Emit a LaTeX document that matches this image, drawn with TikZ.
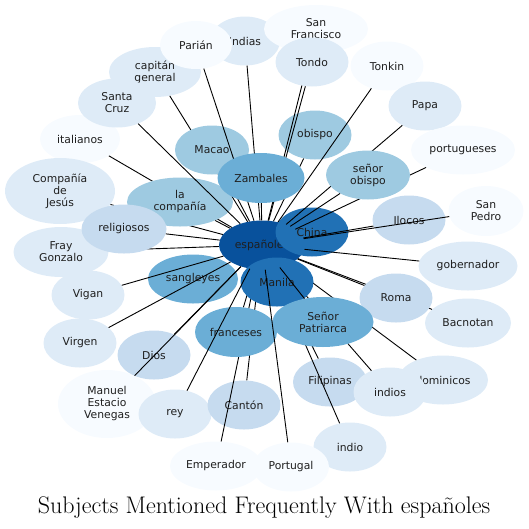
\documentclass[tikz,border=0pt]{standalone}
\usepackage{fontspec}
\newfontfamily\dejavu{DejaVu Sans}
\usetikzlibrary{shapes.geometric}
\definecolor{bla}{HTML}{F7FBFF}
\definecolor{blb}{HTML}{DEEBF7}
\definecolor{blc}{HTML}{C6DBEF}
\definecolor{bld}{HTML}{9ECAE1}
\definecolor{ble}{HTML}{6BAED6}
\definecolor{blf}{HTML}{2171B5}
\definecolor{blg}{HTML}{08519C}

\begin{document}
\begin{tikzpicture}[x=1pt, y=-1pt,
    ent/.style={ellipse, inner sep=0pt, minimum width=73pt, minimum height=49pt,
        align=center, text=black!88, font=\dejavu\fontsize{10.8}{12}\selectfont},
    link/.style={line width=0.9pt, black}]
    \useasboundingbox (0,0) rectangle (529,528);
    % outer ring
    \node[ent, fill=blb, minimum width=70pt] (indias) at (245,41) {Indias};
    \node[ent, fill=bla, minimum width=104pt, minimum height=48pt] (sf) at (316,29) {San\\Francisco};
    \node[ent, fill=blb, minimum width=92pt, minimum height=50pt] (capitan) at (155,72) {capitán\\general};
    \node[ent, fill=bla, minimum width=72pt, minimum height=48pt] (parian) at (196,45) {Parián};
    \node[ent, fill=bla, minimum width=80pt, minimum height=48pt] (italianos) at (80,139) {italianos};
    \node[ent, fill=blb, minimum width=78pt] (santacruz) at (117,103) {Santa\\Cruz};
    \node[ent, fill=blb, minimum width=110pt, minimum height=66pt] (cdj) at (60,191) {Compañía\\de\\Jesús};
    \node[ent, fill=blb, minimum width=95pt, minimum height=50pt] (fray) at (61,252) {Fray\\Gonzalo};
    \node[ent, fill=blb] (vigan) at (88,295) {Vigan};
    \node[ent, fill=blb] (virgen) at (80,343) {Virgen};
    \node[ent, fill=bla, minimum width=98pt, minimum height=68pt] (mev) at (107,404) {Manuel\\Estacio\\Venegas};
    \node[ent, fill=blb] (rey) at (175,414) {rey};
    \node[ent, fill=bla] (tonkin) at (387,66) {Tonkin};
    \node[ent, fill=blb] (papa) at (425,106) {Papa};
    \node[ent, fill=bla, minimum width=104pt] (portugueses) at (463,150) {portugueses};
    \node[ent, fill=bla, minimum width=75pt, minimum height=50pt] (sanpedro) at (486,211) {San\\Pedro};
    \node[ent, fill=blb, minimum width=99pt] (gobernador) at (468,266) {gobernador};
    \node[ent, fill=blb, minimum width=86pt] (bacnotan) at (468,323) {Bacnotan};
    \node[ent, fill=blb, minimum width=90pt] (dominicos) at (443,380) {dominicos};
    \node[ent, fill=blc, minimum width=74pt] (filipinas) at (330,382) {Filipinas};
    \node[ent, fill=blb] (indios) at (390,392) {indios};
    \node[ent, fill=blb] (indio) at (350,447) {indio};
    \node[ent, fill=bla, minimum width=92pt] (emperador) at (216,466) {Emperador};
    \node[ent, fill=bla, minimum width=76pt] (portugal) at (291,467) {Portugal};
    \node[ent, fill=blc] (canton) at (244,405) {Cantón};
    \node[ent, fill=blc] (dios) at (154,355) {Dios};
    \node[ent, fill=bld] (obispo) at (315,135) {obispo};
    \node[ent, fill=blc] (ilocos) at (409,220) {Ilocos};
    \node[ent, fill=ble, minimum width=90pt] (sangleyes) at (193,279) {sangleyes};
    \node[ent, fill=blg, minimum width=86pt] (esp) at (262,245) {españoles};
    \node[ent, fill=blf] (china) at (312,232) {China};
    % links that end up under nodes
    \foreach \s in {sf,indias,capitan,italianos,cdj,fray,papa,portugueses,bacnotan,
        dominicos,filipinas,indios,indio,canton,emperador,obispo}
        \draw[link] (\s) -- (esp);
    \node[ent, fill=blb] (tondo) at (312,62) {Tondo};
    \node[ent, fill=bld, minimum width=74pt] (macao) at (212,150) {Macao};
    \foreach \s in {tondo,parian,macao}
        \draw[link] (\s) -- (esp);
    % inner ring
    \node[ent, fill=bld, minimum width=106pt] (lacomp) at (180,202) {la\\compañía};
    \node[ent, fill=ble, minimum width=87pt, minimum height=50pt] (zambales) at (261,178) {Zambales};
    \node[ent, fill=blc, minimum width=85pt] (religiosos) at (124,229) {religiosos};
    \node[ent, fill=blc] (roma) at (396,298) {Roma};
    \node[ent, fill=bld, minimum width=84pt] (senorob) at (368,175) {señor\\obispo};
    \node[ent, fill=ble, minimum width=82pt, minimum height=50pt] (franceses) at (236,332) {franceses};
    \draw[link] (franceses) -- (esp);
    \node[ent, fill=blf] (manila) at (277,282) {Manila};
    \node[ent, fill=ble, minimum width=101pt, minimum height=50pt] (patriarca) at (323,322) {Señor\\Patriarca};
    % links on top
    \foreach \s in {santacruz,vigan,virgen,mev,dios,rey,tonkin,sanpedro,ilocos,gobernador,
        roma,portugal,patriarca,senorob,zambales,lacomp,religiosos}
        \draw[link] (\s) -- (esp);
    \node[anchor=base, font=\fontsize{24}{28}\selectfont] (title) at (264,513)
        {Subjects Mentioned Frequently With españoles};
\end{tikzpicture}
\end{document}
